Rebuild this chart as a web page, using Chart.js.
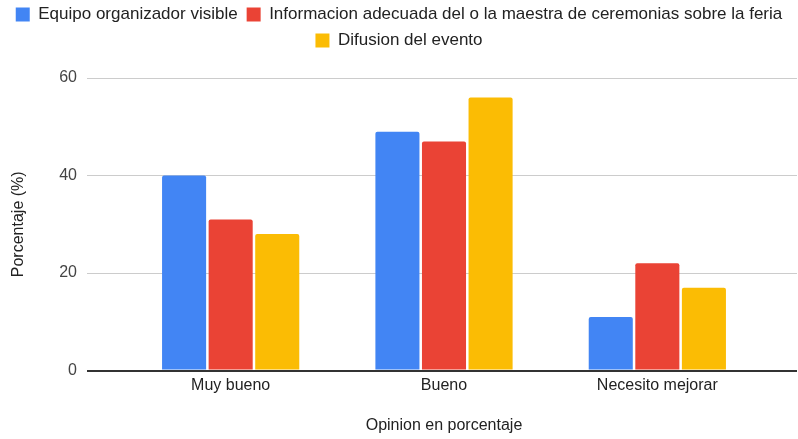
<!DOCTYPE html>
<html>
<head>
<meta charset="utf-8">
<script src="https://cdn.jsdelivr.net/npm/chart.js@4"></script>
<style>
  html, body { margin: 0; padding: 0; background: #fff; }
  #wrap { width: 798px; height: 439px; }
</style>
</head>
<body>
<div id="wrap"><canvas id="opinionChart"></canvas></div>
<script>
const categories = ['Muy bueno', 'Bueno', 'Necesito mejorar'];
const seriesNames = [
    'Equipo organizador visible',
    'Informacion adecuada del o la maestra de ceremonias sobre la feria',
    'Difusion del evento'
];
const equipoValues = [40, 49, 11];
const informacionValues = [31, 47, 22];
const difusionValues = [28, 56, 17];
const yTicks = [0, 20, 40, 60];

const colors = ['#4285F4', '#EA4335', '#FBBC04'];
const FONT = "'Liberation Sans', Arial, sans-serif";
const gridColor = v => v === 0 ? '#333333' : '#cccccc';
const gridWidth = v => v === 0 ? 2 : 1;

// extra space under the legend
const legendMargin = {
    id: 'legendMargin',
    beforeInit(chart) {
        const fit = chart.legend.fit;
        chart.legend.fit = function () {
            fit.call(this);
            this.height += 19;
        };
    }
};

// gridlines run a bit past the right edge of the plot in the original
const gridExtend = {
    id: 'gridExtend',
    beforeDatasetsDraw(chart) {
        const { ctx, chartArea, scales: { y } } = chart;
        ctx.save();
        y.ticks.forEach(t => {
            const w = gridWidth(t.value);
            const py = Math.round(y.getPixelForValue(t.value) - w / 2) + w / 2;
            ctx.strokeStyle = gridColor(t.value);
            ctx.lineWidth = w;
            ctx.beginPath();
            ctx.moveTo(chartArea.right - 1, py);
            ctx.lineTo(797, py);
            ctx.stroke();
        });
        ctx.restore();
    }
};

const ctx = document.getElementById('opinionChart').getContext('2d');
new Chart(ctx, {
    type: 'bar',
    data: {
        labels: categories,
        datasets: [
            { label: seriesNames[0], data: equipoValues, backgroundColor: colors[0] },
            { label: seriesNames[1], data: informacionValues, backgroundColor: colors[1] },
            { label: seriesNames[2], data: difusionValues, backgroundColor: colors[2] }
        ]
    },
    options: {
        responsive: true,
        maintainAspectRatio: false,
        animation: false,
        layout: { padding: { left: 0, right: 0, top: -3, bottom: 0 } },
        datasets: {
            bar: {
                categoryPercentage: 0.655,
                barPercentage: 0.946,
                borderRadius: 2
            }
        },
        scales: {
            x: {
                grid: { display: false, drawTicks: false, tickLength: 0 },
                border: { display: false },
                ticks: { color: '#222', font: { family: FONT, size: 16 }, padding: 5 },
                title: {
                    display: true,
                    text: 'Opinion en porcentaje',
                    color: '#222',
                    font: { family: FONT, size: 16 },
                    padding: { top: 16, bottom: 4 }
                }
            },
            y: {
                min: 0,
                max: 60,
                afterBuildTicks: scale => { scale.ticks = yTicks.map(v => ({ value: v })); },
                afterFit: scale => { scale.width = 124; },
                border: { display: false },
                grid: {
                    color: c => gridColor(c.tick ? c.tick.value : 1),
                    lineWidth: c => gridWidth(c.tick ? c.tick.value : 1),
                    tickLength: 37
                },
                ticks: { color: '#444', font: { family: FONT, size: 16 }, padding: 10 },
                title: {
                    display: true,
                    text: 'Porcentaje (%)',
                    color: '#222',
                    font: { family: FONT, size: 16 },
                    padding: { top: 9 }
                }
            },
            // empty right axis, only keeps the plot off the right edge
            yRight: {
                position: 'right',
                min: 0,
                max: 60,
                afterFit: scale => { scale.width = 34; },
                grid: { display: false },
                border: { display: false },
                ticks: { display: false }
            }
        },
        plugins: {
            legend: {
                position: 'top',
                labels: {
                    color: '#222',
                    font: { family: FONT, size: 17 },
                    boxWidth: 14,
                    boxHeight: 14,
                    padding: 9
                }
            },
            tooltip: { enabled: false }
        }
    },
    plugins: [legendMargin, gridExtend]
});
</script>
</body>
</html>
